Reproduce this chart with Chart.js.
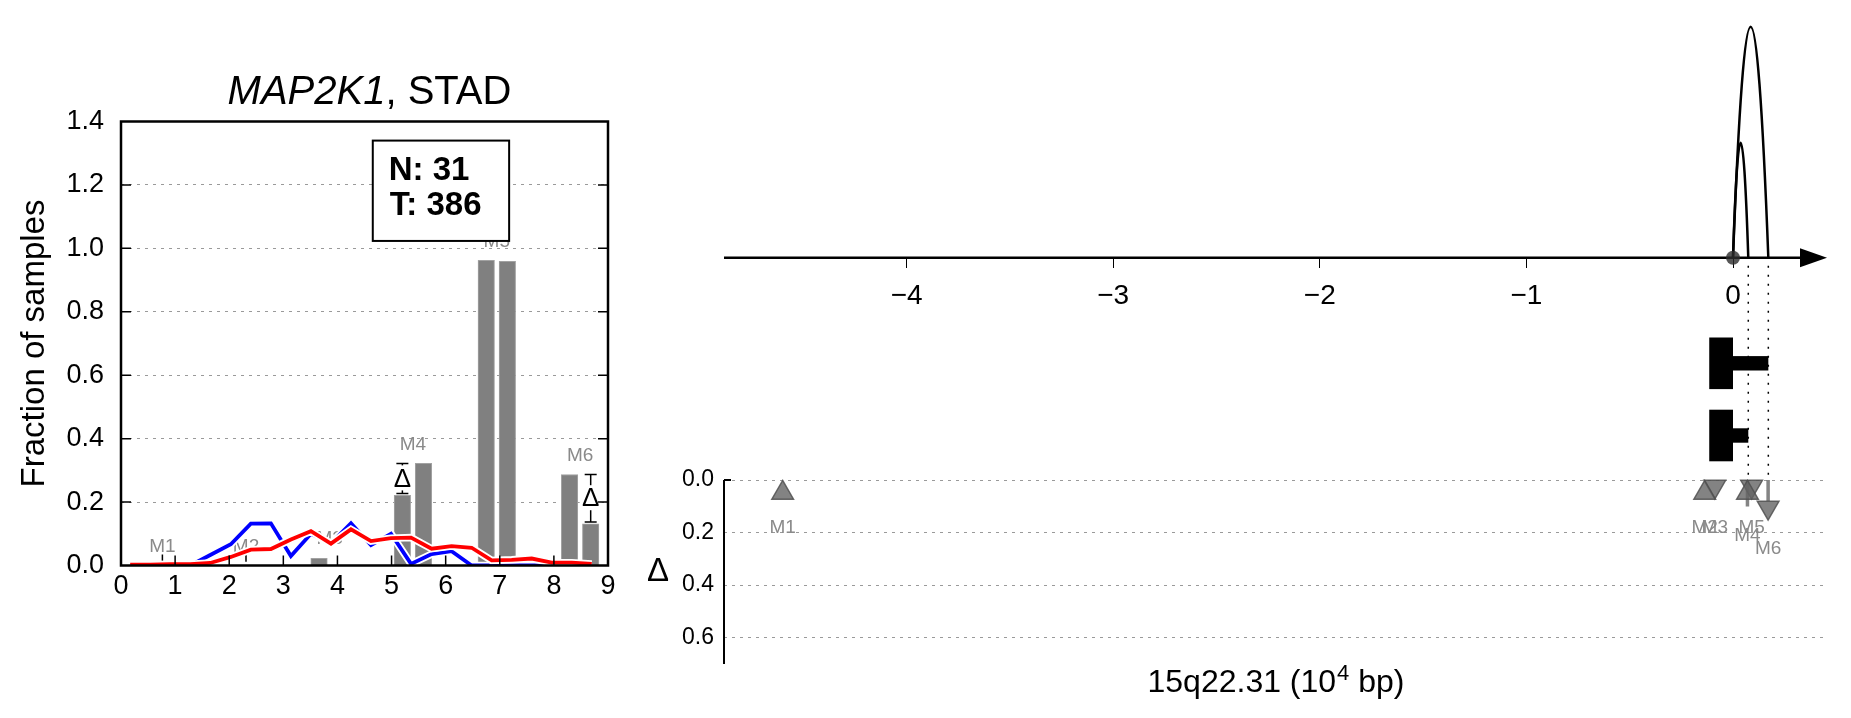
<!DOCTYPE html>
<html>
<head>
<meta charset="utf-8">
<script src="https://cdn.jsdelivr.net/npm/chart.js@4.4.1/dist/chart.umd.min.js"></script>
<style>
html,body{margin:0;padding:0;background:#fff;width:1851px;height:718px;overflow:hidden}
.wrap{position:absolute;top:0}
</style>
</head>
<body>
<div class="wrap" style="left:0;width:640px;height:718px"><canvas id="cl"></canvas></div>
<div class="wrap" style="left:600px;width:1251px;height:718px"><canvas id="cr"></canvas></div>
<script>
// ---------------- data : left panel ----------------
const lineX    = [0.17,0.54,0.91,1.28,1.65,2.03,2.40,2.77,3.14,3.51,3.88,4.25,4.62,4.99,5.36,5.74,6.11,6.48,6.85,7.22,7.59,7.96,8.33,8.70];
const blueVals = [0,0,0,0,0.033,0.067,0.132,0.133,0.030,0.100,0.070,0.133,0.064,0.100,0.005,0.036,0.045,0,0,0,0,0,0,0];
const redVals  = [0.003,0.003,0.004,0.004,0.008,0.027,0.050,0.052,0.082,0.108,0.069,0.114,0.077,0.086,0.088,0.053,0.061,0.056,0.016,0.018,0.022,0.009,0.009,0.005];
const mutNames = ['M1','M2','M3','M4','M5','M6'];
const barPosA  = [0.57,2.115,3.66,5.20,6.75,8.29];
const barPosB  = [0.96,2.505,4.05,5.59,7.14,8.68];
const barValsA = [0,0,0.023,0.221,0.962,0.287];
const barValsB = [0,0,0,0.322,0.959,0.131];
const deltaShown = [false,false,false,true,false,true];
const stubShown  = [true,true,false,false,false,false];
const leftXTicks = [0,1,2,3,4,5,6,7,8,9];
const leftYTicks = [0,0.2,0.4,0.6,0.8,1.0,1.2,1.4];
const nCount = 31;
const tCount = 386;
const geneName = 'MAP2K1';
const cancerName = 'STAD';

// ---------------- data : right panel ----------------
const topTicks   = [-4,-3,-2,-1,0];
const arcEnds    = [0.074,0.171];
const arcHeights = [1.15,2.31];
const markerX    = [-4.60,-0.137,-0.088,0.070,0.090,0.170];
const markerY    = [0.049,0.049,0.025,0.049,0.025,0.105];
const markerUp   = [true,true,false,true,false,false];
const stemEnd    = [0,0,0,0.101,0,0.080];
const deltaTicks = [0,0.2,0.4,0.6];
const regionParts = ['15q22.31 (10', '4', ' bp)'];

const FONT = "'Liberation Sans', Arial, Helvetica, sans-serif";
Chart.defaults.font.family = FONT;
Chart.defaults.color = '#000';
Chart.defaults.animation = false;

// ================= LEFT CHART =================
const pairCenter = i => (barPosA[i] + barPosB[i]) / 2;
const xy = (xs, ys) => xs.map((v, i) => ({x: v, y: ys[i]}));

const leftPlugin = {
  id: 'leftDecor',
  beforeDatasetsDraw(chart) {
    const {ctx, scales: {x, y}} = chart;
    ctx.save();
    ctx.fillStyle = '#8a8a8a';
    ctx.font = `19px ${FONT}`;
    ctx.textAlign = 'center';
    ctx.textBaseline = 'middle';
    mutNames.forEach((n, i) => {
      const top = Math.max(barValsA[i], barValsB[i]);
      ctx.fillText(n, x.getPixelForValue(pairCenter(i)), y.getPixelForValue(top) - 19);
    });
    // small marks at pair centres with no difference
    ctx.strokeStyle = '#000'; ctx.lineWidth = 1.5;
    ctx.beginPath();
    stubShown.forEach((s, i) => {
      if (!s) return;
      const px = x.getPixelForValue(pairCenter(i));
      ctx.moveTo(px, y.getPixelForValue(0.012)); ctx.lineTo(px, y.getPixelForValue(0.035));
    });
    ctx.stroke();
    ctx.restore();
  },
  afterDatasetsDraw(chart) {
    const {ctx, chartArea: ca, scales: {x, y}} = chart;
    ctx.save();
    // delta error bars
    deltaShown.forEach((show, i) => {
      if (!show) return;
      const lo = Math.min(barValsA[i], barValsB[i]);
      const hi = Math.max(barValsA[i], barValsB[i]);
      const bx = barValsA[i] < barValsB[i] ? barPosA[i] : barPosB[i];
      const px = x.getPixelForValue(bx);
      const pLo = y.getPixelForValue(lo) - 2, pHi = y.getPixelForValue(hi);
      ctx.strokeStyle = '#000'; ctx.lineWidth = 1.5;
      ctx.beginPath();
      ctx.moveTo(px, pLo); ctx.lineTo(px, pHi);
      ctx.moveTo(px - 6, pLo); ctx.lineTo(px + 6, pLo);
      ctx.moveTo(px - 6, pHi); ctx.lineTo(px + 6, pHi);
      ctx.stroke();
      const pm = (pLo + pHi) / 2;
      ctx.fillStyle = '#fff';
      ctx.fillRect(px - 11, pm - 13, 22, 25);
      ctx.fillStyle = '#000';
      ctx.font = `26px ${FONT}`;
      ctx.textAlign = 'center'; ctx.textBaseline = 'middle';
      ctx.fillText('\u0394', px, pm + 1);
    });
    // inward ticks
    ctx.strokeStyle = '#000'; ctx.lineWidth = 1.5;
    ctx.beginPath();
    leftXTicks.forEach(v => {
      if (v === x.min || v === x.max) return;
      const px = x.getPixelForValue(v);
      ctx.moveTo(px, ca.bottom); ctx.lineTo(px, ca.bottom - 10);
    });
    leftYTicks.forEach(v => {
      if (v === y.min || v === y.max) return;
      const py = y.getPixelForValue(v);
      ctx.moveTo(ca.left, py); ctx.lineTo(ca.left + 10, py);
      ctx.moveTo(ca.right, py); ctx.lineTo(ca.right - 10, py);
    });
    ctx.stroke();
    // frame
    ctx.lineWidth = 2.5;
    ctx.strokeRect(ca.left, ca.top, ca.right - ca.left, ca.bottom - ca.top);
    // N / T box
    const w = ca.right - ca.left, h = ca.bottom - ca.top;
    const bx0 = ca.left + 0.517 * w, bx1 = ca.left + 0.797 * w;
    const by0 = ca.top + 0.043 * h, by1 = ca.top + 0.269 * h;
    ctx.fillStyle = '#fff';
    ctx.fillRect(bx0, by0, bx1 - bx0, by1 - by0);
    ctx.lineWidth = 2;
    ctx.strokeRect(bx0, by0, bx1 - bx0, by1 - by0);
    ctx.fillStyle = '#000';
    ctx.font = `bold 33px ${FONT}`;
    ctx.textAlign = 'left'; ctx.textBaseline = 'middle';
    ctx.fillText('N: ' + nCount, bx0 + 16, by0 + 30);
    ctx.fillText('T: ' + tCount, bx0 + 17, by0 + 65);
    ctx.restore();
  },
  afterDraw(chart) {
    const {ctx, chartArea: ca} = chart;
    ctx.save();
    // title with italic gene name
    const t1 = geneName, t2 = ', ' + cancerName;
    ctx.font = `italic 40px ${FONT}`;
    const w1 = ctx.measureText(t1).width;
    ctx.font = `40px ${FONT}`;
    const w2 = ctx.measureText(t2).width;
    const cx = (ca.left + ca.right) / 2 + 5;
    const sx = cx - (w1 + w2) / 2;
    ctx.textBaseline = 'middle'; ctx.textAlign = 'left';
    ctx.fillStyle = '#000';
    ctx.font = `italic 40px ${FONT}`;
    ctx.fillText(t1, sx, 93);
    ctx.font = `40px ${FONT}`;
    ctx.fillText(t2, sx + w1, 93);
    // y axis title
    ctx.translate(35, (ca.top + ca.bottom) / 2);
    ctx.rotate(-Math.PI / 2);
    ctx.textAlign = 'center';
    ctx.font = `33px ${FONT}`;
    ctx.fillText('Fraction of samples', 0, 0);
    ctx.restore();
  }
};

new Chart(document.getElementById('cl'), {
  type: 'line',
  data: {
    datasets: [
      {type: 'line', label: 'red', data: xy(lineX, redVals), borderColor: '#ff0000', borderWidth: 3.8, pointRadius: 0, order: 0},
      {type: 'line', label: 'redOutline', data: xy(lineX, redVals), borderColor: '#ffffff', borderWidth: 7.5, pointRadius: 0, order: 1},
      {type: 'line', label: 'blue', data: xy(lineX, blueVals), borderColor: '#0000ff', borderWidth: 3.8, pointRadius: 0, order: 2},
      {type: 'line', label: 'blueOutline', data: xy(lineX, blueVals), borderColor: '#ffffff', borderWidth: 7.5, pointRadius: 0, order: 3},
      {type: 'bar', label: 'barsA', data: xy(barPosA, barValsA), backgroundColor: '#808080', borderColor: '#a2a2a2', borderWidth: 1, barThickness: 16.5, grouped: false, order: 4},
      {type: 'bar', label: 'barsB', data: xy(barPosB, barValsB), backgroundColor: '#808080', borderColor: '#a2a2a2', borderWidth: 1, barThickness: 16.5, grouped: false, order: 5}
    ]
  },
  options: {
    responsive: true, maintainAspectRatio: false, animation: false, events: [],
    layout: {padding: {left: 0, right: 32, top: 121.5, bottom: 0}},
    plugins: {legend: {display: false}, tooltip: {enabled: false}, title: {display: false}},
    scales: {
      x: {
        type: 'linear', min: 0, max: 9, offset: false,
        afterBuildTicks: s => { s.ticks = leftXTicks.map(v => ({value: v})); },
        afterFit: s => { s.height = 152.5; },
        grid: {display: false, drawTicks: false},
        border: {display: false},
        ticks: {font: {size: 27}, color: '#000', padding: 5, maxRotation: 0, autoSkip: false, callback: v => String(v)}
      },
      y: {
        type: 'linear', min: 0, max: 1.4,
        afterBuildTicks: s => { s.ticks = leftYTicks.map(v => ({value: v})); },
        afterFit: s => { s.width = 121; },
        grid: {color: '#9a9a9a', lineWidth: 1, drawTicks: false},
        border: {display: false, dash: [3, 5]},
        ticks: {font: {size: 27}, color: '#000', padding: 17, callback: v => v.toFixed(1)}
      }
    }
  },
  plugins: [leftPlugin]
});

// ================= RIGHT CHART =================
const TRI_R = 12.5;
const rightPlugin = {
  id: 'rightDecor',
  beforeDatasetsDraw(chart) {
    const {ctx, chartArea: ca, scales: {x, y, y2}} = chart;
    const X = v => x.getPixelForValue(v);
    const axY = y2.getPixelForValue(0);
    const d0 = y.getPixelForValue(0);
    ctx.save();
    // dotted guides from arc ends to delta panel
    ctx.strokeStyle = '#000'; ctx.lineWidth = 1.5; ctx.setLineDash([2, 7]);
    ctx.beginPath();
    arcEnds.forEach(e => { ctx.moveTo(X(e), axY + 8); ctx.lineTo(X(e), d0 - 5); });
    ctx.stroke();
    ctx.setLineDash([]);
    // genome axis line with arrow
    ctx.lineWidth = 2.5;
    ctx.beginPath(); ctx.moveTo(ca.left, axY); ctx.lineTo(ca.right - 25, axY); ctx.stroke();
    ctx.fillStyle = '#000';
    ctx.beginPath();
    ctx.moveTo(ca.right - 27, axY - 9.5); ctx.lineTo(ca.right, axY); ctx.lineTo(ca.right - 27, axY + 9.5);
    ctx.closePath(); ctx.fill();
    // arcs
    ctx.lineWidth = 2.5; ctx.strokeStyle = '#000';
    arcEnds.forEach((e, i) => {
      const x0 = X(0), x1 = X(e);
      ctx.beginPath();
      ctx.moveTo(x0, axY);
      ctx.quadraticCurveTo((x0 + x1) / 2, y2.getPixelForValue(2 * arcHeights[i]), x1, axY);
      ctx.stroke();
    });
    // segment glyphs (T shapes)
    const rowY = [-1.056, -1.778];
    const rowSeg = [1, 0];
    rowY.forEach((ry, r) => {
      const yt = y2.getPixelForValue(ry + 0.258), yb = y2.getPixelForValue(ry - 0.258);
      ctx.fillRect(X(-0.115), yt, X(0) - X(-0.115), yb - yt);
      const bt = y2.getPixelForValue(ry + 0.072), bb = y2.getPixelForValue(ry - 0.072);
      ctx.fillRect(X(0), bt, X(arcEnds[rowSeg[r]]) - X(0), bb - bt);
    });
    // delta axis spine and its zero tick
    ctx.lineWidth = 2;
    ctx.beginPath();
    ctx.moveTo(ca.left, d0); ctx.lineTo(ca.left, y.getPixelForValue(y.max));
    ctx.moveTo(ca.left, d0); ctx.lineTo(ca.left + 7, d0);
    ctx.stroke();
    // mutation labels
    ctx.fillStyle = '#8a8a8a';
    ctx.font = `19px ${FONT}`;
    ctx.textAlign = 'center'; ctx.textBaseline = 'middle';
    mutNames.forEach((n, i) => {
      const cy = y.getPixelForValue(markerY[i]);
      const bottom = markerUp[i] ? cy + TRI_R / 2 : cy + TRI_R;
      const ly = Math.max(bottom, y.getPixelForValue(stemEnd[i])) + 29;
      ctx.fillText(n, X(markerX[i]), ly);
    });
    // delta axis title
    ctx.fillStyle = '#000';
    ctx.font = `33px ${FONT}`;
    ctx.fillText('\u0394', ca.left - 66, y.getPixelForValue((deltaTicks[0] + y.max) / 2));
    // region axis title with superscript exponent
    const big = `32px ${FONT}`, small = `22px ${FONT}`;
    ctx.font = big; const wa = ctx.measureText(regionParts[0]).width;
    ctx.font = small; const wb = ctx.measureText(regionParts[1]).width;
    ctx.font = big; const wc = ctx.measureText(regionParts[2]).width;
    const tx = (ca.left + ca.right) / 2 - (wa + wb + wc) / 2;
    const ty = chart.height - 26;
    ctx.textAlign = 'left'; ctx.textBaseline = 'alphabetic';
    ctx.font = big; ctx.fillText(regionParts[0], tx, ty);
    ctx.font = small; ctx.fillText(regionParts[1], tx + wa + 1, ty - 12);
    ctx.font = big; ctx.fillText(regionParts[2], tx + wa + wb + 1, ty);
    ctx.restore();
  }
};

const triColor = 'rgba(100,100,100,0.8)';
const triEdge = 'rgba(80,80,80,0.85)';
const stemSets = stemEnd.map((s, i) => s > 0 ? {
  type: 'line', label: 'stem ' + mutNames[i],
  data: [{x: markerX[i], y: 0}, {x: markerX[i], y: s}],
  borderColor: 'rgba(110,110,110,0.85)', borderWidth: 3.5, pointRadius: 0, showLine: true,
  xAxisID: 'x', yAxisID: 'y', order: 5
} : null).filter(Boolean);

new Chart(document.getElementById('cr'), {
  type: 'scatter',
  data: {
    datasets: [
      {label: 'origin', data: [{x: 0, y: 0}], xAxisID: 'x', yAxisID: 'y2',
       pointRadius: 7, backgroundColor: 'rgba(45,45,45,0.8)', borderWidth: 0, order: 0},
      {label: 'up', data: markerX.map((v, i) => ({x: v, y: markerY[i]})).filter((_, i) => markerUp[i]),
       xAxisID: 'x', yAxisID: 'y', pointStyle: 'triangle', pointRadius: TRI_R, pointRotation: 0,
       backgroundColor: triColor, borderColor: triEdge, borderWidth: 1.5, order: 1},
      {label: 'down', data: markerX.map((v, i) => ({x: v, y: markerY[i]})).filter((_, i) => !markerUp[i]),
       xAxisID: 'x', yAxisID: 'y', pointStyle: 'triangle', pointRadius: TRI_R, pointRotation: 180,
       backgroundColor: triColor, borderColor: triEdge, borderWidth: 1.5, order: 2},
      ...stemSets
    ]
  },
  options: {
    responsive: true, maintainAspectRatio: false, animation: false, events: [],
    layout: {padding: {left: 0, right: 24, top: 30, bottom: 54}},
    plugins: {legend: {display: false}, tooltip: {enabled: false}},
    scales: {
      x: {
        type: 'linear', min: -4.884, max: 0.455, position: {y2: 0}, offset: false,
        afterBuildTicks: s => { s.ticks = topTicks.map(v => ({value: v})); },
        grid: {drawOnChartArea: false, drawTicks: true, tickLength: 10, tickWidth: 1, tickColor: '#000'},
        border: {display: false},
        ticks: {font: {size: 28}, color: '#000', padding: 12, maxRotation: 0, autoSkip: false,
                callback: v => v < 0 ? '\u2212' + Math.abs(v) : String(v)}
      },
      y: {
        type: 'linear', reverse: true, min: -1.712, max: 0.7, position: 'left',
        afterBuildTicks: s => { s.ticks = deltaTicks.map(v => ({value: v})); },
        afterFit: s => { s.width = 124; },
        grid: {color: '#9a9a9a', lineWidth: 1, drawTicks: false},
        border: {display: false, dash: [3, 5]},
        ticks: {font: {size: 23}, color: '#000', padding: 10, callback: v => v.toFixed(1)}
      },
      y2: {
        type: 'linear', display: false, min: -4.063, max: 2.277
      }
    }
  },
  plugins: [rightPlugin]
});
</script>
</body>
</html>
